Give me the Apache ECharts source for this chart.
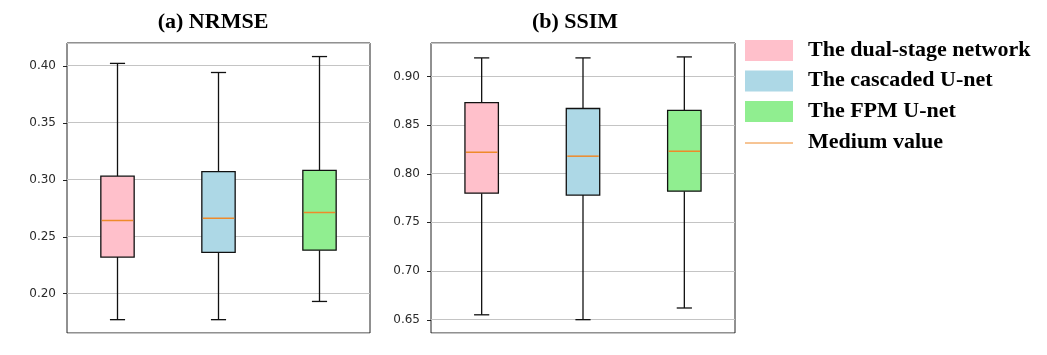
<!DOCTYPE html>
<html><head><meta charset="utf-8">
<script src="https://cdn.jsdelivr.net/npm/echarts@6/dist/echarts.min.js"></script>
<style>html,body{margin:0;padding:0;background:#fff}#c{width:1047px;height:355px}</style>
</head><body><div id="c"></div>
<script>
const methods = ['The dual-stage network', 'The cascaded U-net', 'The FPM U-net'];
const medianLabel = 'Medium value';
const titles = ['(a) NRMSE', '(b) SSIM'];
// each row: [min, Q1, median, Q3, max]
const nrmse = [
  [0.177, 0.232, 0.264, 0.303, 0.402],
  [0.177, 0.236, 0.266, 0.307, 0.394],
  [0.193, 0.238, 0.271, 0.308, 0.408]
];
const ssim = [
  [0.655, 0.780, 0.822, 0.873, 0.919],
  [0.650, 0.778, 0.818, 0.867, 0.919],
  [0.662, 0.782, 0.823, 0.865, 0.920]
];
const nrmseTicks = ['0.20', '0.25', '0.30', '0.35', '0.40'];
const ssimTicks = ['0.65', '0.70', '0.75', '0.80', '0.85', '0.90'];

const colors = ['#ffc0cb', '#add8e6', '#90ee90'];
const medianColor = '#ee8a2a';

function renderBox(params, api) {
  const i = api.value(0);
  const pMin = api.coord([i, api.value(1)]);
  const pQ1 = api.coord([i, api.value(2)]);
  const pMd = api.coord([i, api.value(3)]);
  const pQ3 = api.coord([i, api.value(4)]);
  const pMax = api.coord([i, api.value(5)]);
  const band = api.size([1, 0])[0];
  const bw = band * 0.33, cw = band * 0.15;
  const x = pMin[0];
  const ls = { stroke: '#111', lineWidth: 1.3 };
  return { type: 'group', children: [
    { type: 'line', shape: { x1: x, y1: pMax[1], x2: x, y2: pQ3[1] }, style: ls },
    { type: 'line', shape: { x1: x, y1: pQ1[1], x2: x, y2: pMin[1] }, style: ls },
    { type: 'line', shape: { x1: x - cw / 2, y1: pMax[1], x2: x + cw / 2, y2: pMax[1] }, style: ls },
    { type: 'line', shape: { x1: x - cw / 2, y1: pMin[1], x2: x + cw / 2, y2: pMin[1] }, style: ls },
    { type: 'rect', shape: { x: x - bw / 2, y: pQ3[1], width: bw, height: pQ1[1] - pQ3[1] },
      style: { fill: colors[i], stroke: '#111', lineWidth: 1.3 } },
    { type: 'line', shape: { x1: x - bw / 2 + 1, y1: pMd[1], x2: x + bw / 2 - 1, y2: pMd[1] },
      style: { stroke: medianColor, lineWidth: 1.5 } }
  ]};
}

// short tick marks outside the left frame, placed through the y scale
function renderTick(params, api) {
  const p = api.coord([api.value(0), api.value(1)]);
  const left = params.coordSys.x;
  const y = Math.round(p[1]) + 0.5;
  return { type: 'line', z2: 100, shape: { x1: left - 4, y1: y, x2: left, y2: y },
    style: { stroke: '#222', lineWidth: 1 } };
}

function yAxis(gi, min, max, ticks) {
  const vals = ticks.map(Number);
  return {
    type: 'value', gridIndex: gi, min: min, max: max, splitNumber: 5,
    axisLine: { show: false },
    axisTick: { show: false },
    axisLabel: {
      customValues: vals, margin: 11,
      fontSize: 12, color: '#2a2a2a', fontFamily: 'DejaVu Sans',
      formatter: v => v.toFixed(2)
    },
    splitLine: { lineStyle: { color: '#c4c4c4', width: 1 } }
  };
}
function xAxis(gi) {
  return { type: 'category', gridIndex: gi, data: methods,
    axisLine: { show: false }, axisTick: { show: false }, axisLabel: { show: false }, splitLine: { show: false } };
}

const legendGraphics = [];
methods.forEach((m, k) => {
  const cy = 50 + k * 30.5;
  legendGraphics.push({ type: 'rect', shape: { x: 745, y: cy - 10, width: 48, height: 21 }, style: { fill: colors[k] } });
  legendGraphics.push({ type: 'text', x: 808, y: cy, style: { text: m, fill: '#000',
    font: 'bold 22px "Liberation Serif"', textVerticalAlign: 'middle' } });
});
legendGraphics.push({ type: 'line', shape: { x1: 745, y1: 143, x2: 793, y2: 143 }, style: { stroke: medianColor, lineWidth: 1 } });
legendGraphics.push({ type: 'text', x: 808, y: 142, style: { text: medianLabel, fill: '#000',
  font: 'bold 22px "Liberation Serif"', textVerticalAlign: 'middle' } });

const chart = echarts.init(document.getElementById('c'), null, { renderer: 'canvas' });
chart.setOption({
  animation: false,
  backgroundColor: '#fff',
  grid: [
    { left: 67, top: 43, width: 303, height: 290, show: true, borderColor: '#222', borderWidth: 1, backgroundColor: '#fff' },
    { left: 431, top: 43, width: 304, height: 290, show: true, borderColor: '#222', borderWidth: 1, backgroundColor: '#fff' }
  ],
  xAxis: [xAxis(0), xAxis(1)],
  yAxis: [yAxis(0, 0.1653, 0.4199, nrmseTicks), yAxis(1, 0.6363, 0.9343, ssimTicks)],
  series: [
    { type: 'custom', xAxisIndex: 0, yAxisIndex: 0, renderItem: renderBox,
      encode: { x: 0, y: [1, 2, 3, 4, 5] }, data: nrmse.map((r, i) => [i].concat(r)) },
    { type: 'custom', xAxisIndex: 1, yAxisIndex: 1, renderItem: renderBox,
      encode: { x: 0, y: [1, 2, 3, 4, 5] }, data: ssim.map((r, i) => [i].concat(r)) },
    { type: 'custom', xAxisIndex: 0, yAxisIndex: 0, renderItem: renderTick, clip: false, silent: true, z: 10,
      encode: { x: 0, y: 1 }, data: nrmseTicks.map(t => [0, Number(t)]) },
    { type: 'custom', xAxisIndex: 1, yAxisIndex: 1, renderItem: renderTick, clip: false, silent: true, z: 10,
      encode: { x: 0, y: 1 }, data: ssimTicks.map(t => [0, Number(t)]) }
  ],
  graphic: [
    { type: 'text', x: 213, y: 22, style: { text: titles[0], fill: '#000', font: 'bold 22px "Liberation Serif"',
      textAlign: 'center', textVerticalAlign: 'middle' } },
    { type: 'text', x: 575, y: 22, style: { text: titles[1], fill: '#000', font: 'bold 22px "Liberation Serif"',
      textAlign: 'center', textVerticalAlign: 'middle' } }
  ].concat(legendGraphics)
});
</script></body></html>
